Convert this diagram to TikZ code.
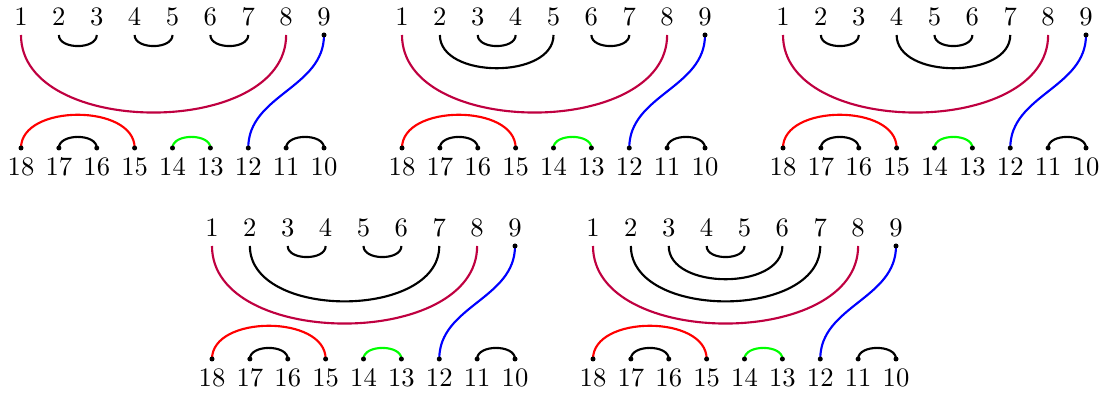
\documentclass[tikz,border=0pt]{standalone}
\begin{document}
\begin{tikzpicture}[x=0.3755pt,y=0.3755pt,
  link/.style={line width=0.8pt},
  cross/.style={link,purple},
  pairred/.style={link,red},
  pairgreen/.style={link,green},
  pairblue/.style={link,blue},
  toplab/.style={anchor=south,inner sep=3.33pt},
  botlab/.style={anchor=north,inner sep=3.33pt},
  dotmark/.style={fill=black}]
\useasboundingbox (0,0) rectangle (1105,398);
% panel builder: #1 prefix, #2 x of point 1, #3 y of top points
\newcommand{\mkpanel}[3]{%
  \foreach \k in {1,...,9}{%
    \pgfmathtruncatemacro{\bb}{19-\k}%
    \coordinate (#1t\k) at ({#2+(\k-1)*37.875},#3);
    \node[toplab] (#1tl\k) at (#1t\k) {\k};
    \coordinate (#1b\bb) at ({#2+(\k-1)*37.875},{#3-113});
    \node[botlab] (#1bl\bb) at (#1b\bb) {\bb};
  }%
  \draw[cross] (#1t1) to[out=-90,in=-90] (#1t8);
  \draw[pairblue] (#1t9) to[out=-90,in=90] (#1b12);
  \draw[pairred] (#1b18) to[out=90,in=90] (#1b15);
  \draw[link] (#1b17) to[out=90,in=90] (#1b16);
  \draw[pairgreen] (#1b14) to[out=90,in=90] (#1b13);
  \draw[link] (#1b11) to[out=90,in=90] (#1b10);
  \fill[dotmark] (#1t9) circle (2.5);
  \foreach \k in {10,...,18}{\fill[dotmark] (#1b\k) circle (2.5);}
}
\newcommand{\tarc}[3]{\draw[link] (#1t#2) to[out=-90,in=-90] (#1t#3);}
% row 1
\mkpanel{A}{21}{363}
\tarc{A}{2}{3}\tarc{A}{4}{5}\tarc{A}{6}{7}
\mkpanel{B}{402}{363}
\tarc{B}{2}{5}\tarc{B}{3}{4}\tarc{B}{6}{7}
\mkpanel{C}{783}{363}
\tarc{C}{2}{3}\tarc{C}{4}{7}\tarc{C}{5}{6}
% row 2
\mkpanel{D}{212}{152}
\tarc{D}{2}{7}\tarc{D}{3}{4}\tarc{D}{5}{6}
\mkpanel{E}{593}{152}
\tarc{E}{2}{7}\tarc{E}{3}{6}\tarc{E}{4}{5}
\end{tikzpicture}
\end{document}
